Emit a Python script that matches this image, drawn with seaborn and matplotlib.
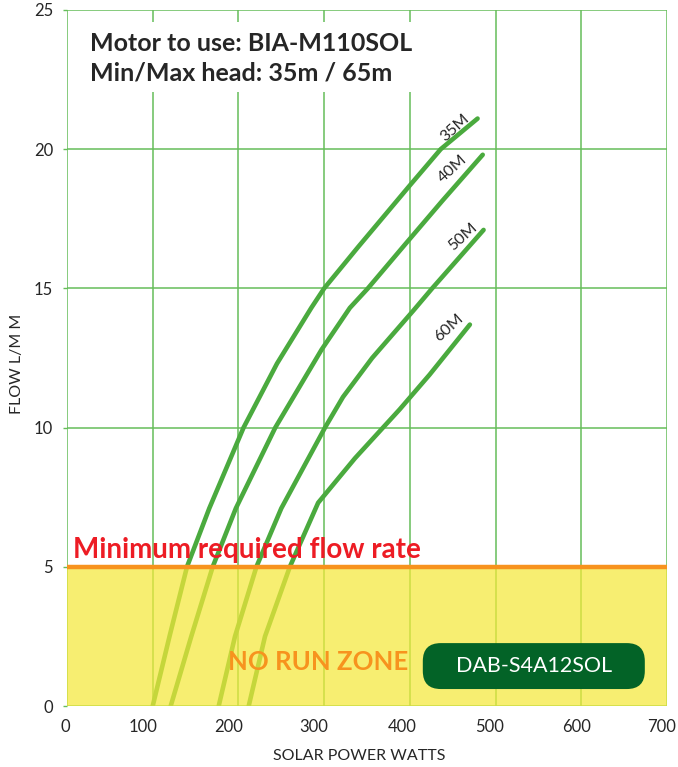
import matplotlib
matplotlib.use("Agg")
import matplotlib.pyplot as plt
import matplotlib.transforms as mtransforms
from matplotlib.patches import Rectangle, FancyBboxPatch
import pandas as pd
import seaborn as sns

# curve data (solar watts -> flow L/min)
w_35 = [100, 120, 140, 166, 206, 245, 285, 300, 340, 400, 436, 479]
f_35 = [0, 2.55, 5, 7.1, 10, 12.3, 14.3, 15.0, 16.5, 18.7, 20.0, 21.1]
w_40 = [121, 145, 170, 197, 243, 297, 330, 351, 395, 438, 485]
f_40 = [0, 2.5, 5, 7.1, 10, 12.8, 14.3, 15.0, 16.6, 18.15, 19.8]
w_50 = [177, 196, 221, 250, 301, 322, 356, 404, 426, 486]
f_50 = [0, 2.5, 5, 7.1, 10, 11.1, 12.5, 14.2, 15.0, 17.1]
w_60 = [212, 231, 260, 293, 336, 388, 423, 470]
f_60 = [0, 2.5, 5, 7.3, 8.9, 10.65, 11.9, 13.7]

heads = ["35M", "40M", "50M", "60M"]
label_x = [452.7, 450.4, 462.0, 445.7]
label_y = [20.76, 19.3, 16.85, 13.58]

min_flow = 5
x_ticks = [0, 100, 200, 300, 400, 500, 600, 700]
y_ticks = [0, 5, 10, 15, 20, 25]

GREEN = "#4aaa3e"
GRID = "#66bd5a"
ORANGE = "#f7931e"

df = pd.concat([
    pd.DataFrame({"watts": w, "flow": f, "head": h})
    for w, f, h in zip([w_35, w_40, w_50, w_60], [f_35, f_40, f_50, f_60], heads)
])

sns.set_theme(style="white")
plt.rcParams["font.family"] = ["Lato", "DejaVu Sans"]

fig = plt.figure(figsize=(6.78, 7.67), dpi=100)
ax = fig.add_axes([0.0988, 0.0795, 0.885, 0.9075])

sns.lineplot(data=df, x="watts", y="flow", hue="head", palette=[GREEN] * 4,
             lw=3.3, legend=False, ax=ax, zorder=2, estimator=None, sort=False)

ax.set_xlim(0, 700)
ax.set_ylim(0, 25)
ax.set_xticks(x_ticks)
ax.set_yticks(y_ticks)
ax.grid(True, color=GRID, lw=1.1)
ax.set_axisbelow(True)
for s in ax.spines.values():
    s.set_visible(False)
ax.tick_params(axis="y", left=True, length=3, width=1, color=GRID, pad=7, labelsize=12)
ax.tick_params(axis="x", bottom=False, pad=3, labelsize=12)

# the printed x labels sit a little left of their gridlines
nudge = [-2, -10, -10, -10, -8, -6, -5, -5]
for lab, dx in zip(ax.get_xticklabels(), nudge):
    lab.set_transform(lab.get_transform() +
                      mtransforms.ScaledTranslation(dx / 100, 0, fig.dpi_scale_trans))

# header box
ax.add_patch(Rectangle((0.003, 0.882), 0.582, 0.101, transform=ax.transAxes,
                       fc="white", ec="none", zorder=1))
ax.text(0.038, 0.952, "Motor to use: BIA-M110SOL", transform=ax.transAxes,
        fontsize=18, fontweight="bold", va="center", ha="left", zorder=6)
ax.text(0.038, 0.909, "Min/Max head: 35m / 65m", transform=ax.transAxes,
        fontsize=18, fontweight="bold", va="center", ha="left", zorder=6)

# no run zone overlay
ax.axhspan(0, min_flow, color="#f5e83a", alpha=0.72, lw=0, zorder=3)
ax.axhline(min_flow, color=ORANGE, lw=3.2, zorder=4)
ax.text(7, 5.3, "Minimum required flow rate", color="#ed1c24",
        fontsize=20, fontweight="bold", va="baseline", ha="left", zorder=6)
ax.text(293, 1.58, "NO RUN ZONE", color=ORANGE, fontsize=18.5,
        fontweight="bold", va="center", ha="center", zorder=6)

ax.add_patch(FancyBboxPatch((0.593, 0.0244), 0.37, 0.066, transform=ax.transAxes,
                            boxstyle="round,pad=0,rounding_size=0.03",
                            mutation_aspect=0.86, fc="#036327", ec="none", zorder=5))
ax.text(545, 1.44, "DAB-S4A12SOL", color="white", fontsize=15.5,
        va="center", ha="center", zorder=6)

for h, lx, ly in zip(heads, label_x, label_y):
    ax.text(lx, ly, h, rotation=42, fontsize=11.5, ha="center", va="center", zorder=6)

ax.set_xlabel("SOLAR POWER WATTS", fontsize=11.5)
ax.set_ylabel("FLOW L/M M", fontsize=11.5)
ax.xaxis.set_label_coords(0.487, -0.062)
ax.yaxis.set_label_coords(-0.072, 0.491)

fig.savefig("out.png", dpi=100)
